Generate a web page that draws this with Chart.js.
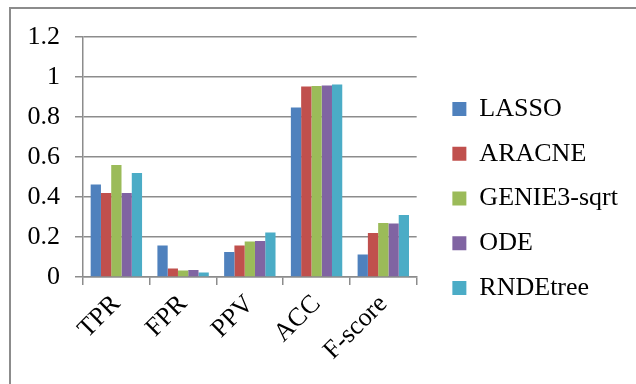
<!DOCTYPE html>
<html>
<head>
<meta charset="utf-8">
<script src="https://cdn.jsdelivr.net/npm/chart.js@4"></script>
<style>
  html, body { margin: 0; padding: 0; background: #fff; }
  #frame { position: absolute; left: 9px; top: 7px; width: 700px; height: 500px; border-top: 2px solid #8c8c8c; border-left: 2px solid #8c8c8c; }
  #wrap { position: absolute; left: 0; top: 0; width: 636px; height: 384px; }
</style>
</head>
<body>
<div id="frame"></div>
<div id="wrap"><canvas id="chart" width="636" height="384"></canvas></div>
<script>
const categories = ['TPR', 'FPR', 'PPV', 'ACC', 'F-score'];
const seriesNames = ['LASSO', 'ARACNE', 'GENIE3-sqrt', 'ODE', 'RNDEtree'];
const lasso = [0.463, 0.157, 0.125, 0.848, 0.112];
const aracne = [0.42, 0.042, 0.157, 0.952, 0.22];
const genie3 = [0.56, 0.032, 0.178, 0.955, 0.27];
const ode = [0.42, 0.035, 0.18, 0.958, 0.268];
const rndetree = [0.52, 0.022, 0.222, 0.963, 0.31];
const yTickLabels = ['0', '0.2', '0.4', '0.6', '0.8', '1', '1.2'];

const colors = ['#4f81bd', '#c0504d', '#9bbb59', '#8064a2', '#4bacc6'];
const values = [lasso, aracne, genie3, ode, rndetree];

const font = { family: 'Liberation Serif', size: 26 };

// nudge the legend block to where the original sits
const legendShift = {
  id: 'legendShift',
  afterLayout(chart) {
    const lg = chart.legend;
    lg.left += 17; lg.right += 17;
    lg.top -= 12; lg.bottom -= 12;
  }
};

new Chart(document.getElementById('chart'), {
  type: 'bar',
  data: {
    labels: categories,
    datasets: seriesNames.map((name, i) => ({
      label: name,
      data: values[i],
      backgroundColor: colors[i],
      borderWidth: 0,
      categoryPercentage: 0.77,
      barPercentage: 1
    }))
  },
  options: {
    responsive: false,
    animation: false,
    layout: { padding: { top: 37, right: 25, left: 0, bottom: 0 } },
    plugins: {
      tooltip: { enabled: false },
      legend: {
        position: 'right',
        maxWidth: 240,
        labels: {
          font: font,
          color: '#000',
          boxWidth: 14,
          boxHeight: 14,
          padding: 18.7
        }
      }
    },
    scales: {
      x: {
        grid: { display: true, drawOnChartArea: false, color: '#8c8c8c', lineWidth: 1.5, tickLength: 8 },
        border: { color: '#8c8c8c', width: 1.5 },
        ticks: { font: font, color: '#000', minRotation: 45, maxRotation: 45, padding: 4 },
        afterFit: s => { s.height = 107; }
      },
      y: {
        min: 0,
        max: 1.2,
        grid: { color: '#8c8c8c', lineWidth: 1.5, tickLength: 8 },
        border: { color: '#8c8c8c', width: 1.5 },
        ticks: {
          stepSize: 0.2,
          font: font,
          color: '#000',
          padding: 15,
          callback: (v, i) => yTickLabels[i]
        },
        afterFit: s => { s.width = 83; }
      }
    }
  },
  plugins: [legendShift]
});
</script>
</body>
</html>
